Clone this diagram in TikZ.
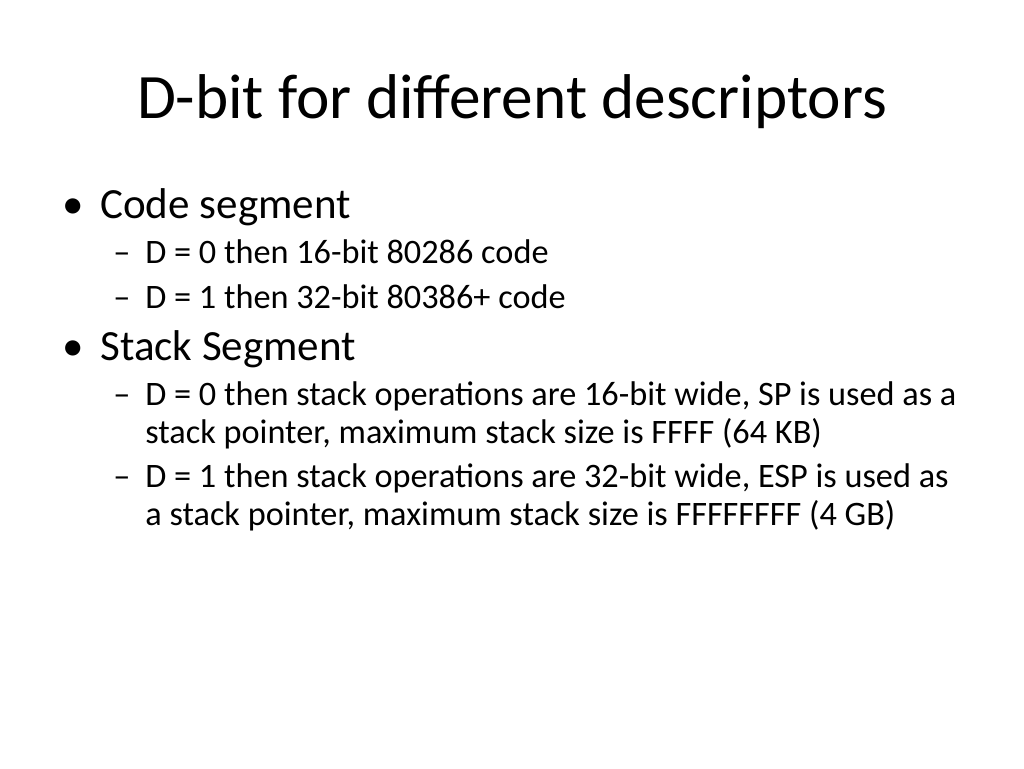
\documentclass[tikz,border=0pt]{standalone}
\usepackage{fontspec}
\setmainfont{Carlito}
\begin{document}
\begin{tikzpicture}[x=0.02cm,y=-0.02cm,
  lvlone/.style={anchor=base west,inner sep=0pt,font=\fontsize{24.5}{29}\selectfont},
  lvltwo/.style={anchor=base west,inner sep=0pt,font=\fontsize{19.5}{23}\selectfont}]
	\useasboundingbox (0,0) rectangle (1024,768);
	\node[anchor=base,inner sep=0pt,font=\fontsize{36}{43}\selectfont] (title) at (512,118) {D-bit for different descriptors};
	%
	\node[lvlone] (b1) at (62,218) {\textbullet};
	\node[lvlone] (code) at (100,218) {Code segment};
	\node[lvltwo] (d1) at (113,263) {–};
	\node[lvltwo] (c0) at (145,263) {D = 0 then 16-bit 80286 code};
	\node[lvltwo] (d2) at (113,308) {–};
	\node[lvltwo] (c1) at (145,308) {D = 1 then 32-bit 80386+ code};
	%
	\node[lvlone] (b2) at (62,360) {\textbullet};
	\node[lvlone] (stack) at (100,360) {Stack Segment};
	\node[lvltwo] (d3) at (113,405) {–};
	\node[lvltwo] (s0a) at (145,405) {D = 0 then stack operations are 16-bit wide, SP is used as a};
	\node[lvltwo] (s0b) at (145,443) {stack pointer, maximum stack size is FFFF (64 KB)};
	\node[lvltwo] (d4) at (113,487) {–};
	\node[lvltwo] (s1a) at (145,487) {D = 1 then stack operations are 32-bit wide, ESP is used as};
	\node[lvltwo] (s1b) at (145,525) {a stack pointer, maximum stack size is FFFFFFFF (4 GB)};
\end{tikzpicture}
\end{document}
